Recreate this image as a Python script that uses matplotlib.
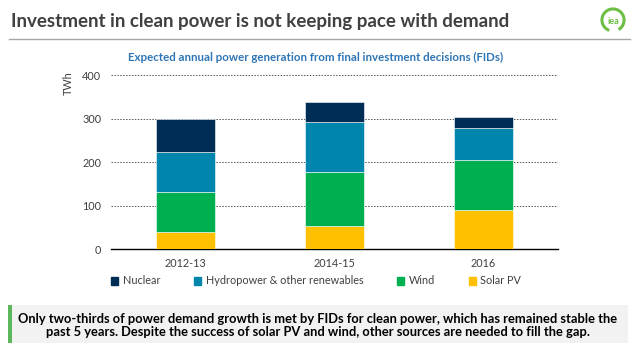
import matplotlib
matplotlib.use("Agg")
import matplotlib.pyplot as plt
from matplotlib.patches import Rectangle, Arc
from matplotlib.lines import Line2D
import numpy as np

categories = ["2012-13", "2014-15", "2016"]
solar = [40, 54, 90]
wind = [91, 123, 115]
hydro = [92, 114, 73]
nuclear = [77, 47, 25]
series_names = ["Nuclear", "Hydropower & other renewables", "Wind", "Solar PV"]
yticks = [0, 100, 200, 300, 400]

colors = {"Solar PV": "#FFC000", "Wind": "#00B050",
          "Hydropower & other renewables": "#0086AC", "Nuclear": "#002D55"}

plt.rcParams['font.family'] = ['Lato', 'DejaVu Sans']

W, H = 638, 359
fig = plt.figure(figsize=(W / 100, H / 100), dpi=100)
fig.patch.set_facecolor("white")

def fx(px): return px / W
def fy(py): return 1 - py / H

ax = fig.add_axes([fx(111), fy(249.3), fx(558) - fx(111), fy(75) - fy(249.3)])
x = np.arange(len(categories))
bottom = np.zeros(len(categories))
stack = [("Solar PV", solar), ("Wind", wind),
         ("Hydropower & other renewables", hydro), ("Nuclear", nuclear)]
for name, vals in stack:
    ax.bar(x, vals, 0.4, bottom=bottom, color=colors[name], zorder=3,
           edgecolor="white", linewidth=0.4)
    bottom += np.array(vals)

ax.set_xlim(-0.5, 2.5)
ax.set_ylim(0, 400)
ax.set_yticks(yticks)
ax.set_xticks(x)
ax.set_xticklabels(categories)
for s in ["top", "right", "left"]:
    ax.spines[s].set_visible(False)
ax.spines["bottom"].set_color("black")
ax.spines["bottom"].set_linewidth(1.0)
ax.tick_params(axis="both", length=0, labelsize=7.8, colors="#404040")
ax.tick_params(axis="x", pad=6)
ax.tick_params(axis="y", pad=7)
ax.yaxis.grid(True, linestyle=(0, (1.5, 1.5)), color="#555555", linewidth=0.7, zorder=0)
ax.set_axisbelow(True)
fig.text(fx(68), fy(83), "TWh", rotation=90, fontsize=7.8, color="#404040",
         ha="center", va="center")

handles = [Rectangle((0, 0), 1, 1, color=colors[n]) for n in series_names]
leg = fig.legend(handles, series_names, loc="center", bbox_to_anchor=(fx(316), fy(281)),
                 ncol=4, frameon=False, fontsize=7.8, handlelength=0.7, handleheight=0.7,
                 handletextpad=0.4, columnspacing=3.1, labelcolor="#404040")

# Title
fig.text(fx(11), fy(21), "Investment in clean power is not keeping pace with demand",
         fontsize=13.5, fontweight="bold", color="#404040", va="center", ha="left")
fig.add_artist(Line2D([fx(9), fx(630)], [fy(38.5), fy(38.5)], color="#A6A6A6", linewidth=1.0))

# Logo
logo_ax = fig.add_axes([fx(600), fy(34), fx(626) - fx(600), fy(6) - fy(34)])
logo_ax.set_xlim(-1, 1); logo_ax.set_ylim(-1, 1); logo_ax.set_aspect("equal"); logo_ax.axis("off")
logo_ax.add_patch(Arc((0, 0), 1.7, 1.7, theta1=-60, theta2=250, color="#6CBE45", linewidth=2.2))
logo_ax.text(0, -0.15, "iea", ha="center", va="center", fontsize=6.5, fontweight="bold", color="#6CBE45")

# Subtitle
fig.text(fx(316), fy(57), "Expected annual power generation from final investment decisions (FIDs)",
         fontsize=8.3, fontweight="bold", color="#2E75B6", ha="center", va="center")

# Bottom box
fig.add_artist(Rectangle((fx(8), fy(343)), fx(628) - fx(8), fy(305) - fy(343),
                         facecolor="#F2F2F2", edgecolor="none"))
fig.add_artist(Rectangle((fx(8), fy(343)), fx(12) - fx(8), fy(305) - fy(343),
                         facecolor="#5CB85C", edgecolor="none"))
fig.text(fx(318), fy(325.5),
         "Only two-thirds of power demand growth is met by FIDs for clean power, which has remained stable the\n"
         "past 5 years. Despite the success of solar PV and wind, other sources are needed to fill the gap.",
         fontsize=9.3, fontweight="bold", color="black", ha="center", va="center", linespacing=1.1)

fig.savefig("out.png", dpi=100)
